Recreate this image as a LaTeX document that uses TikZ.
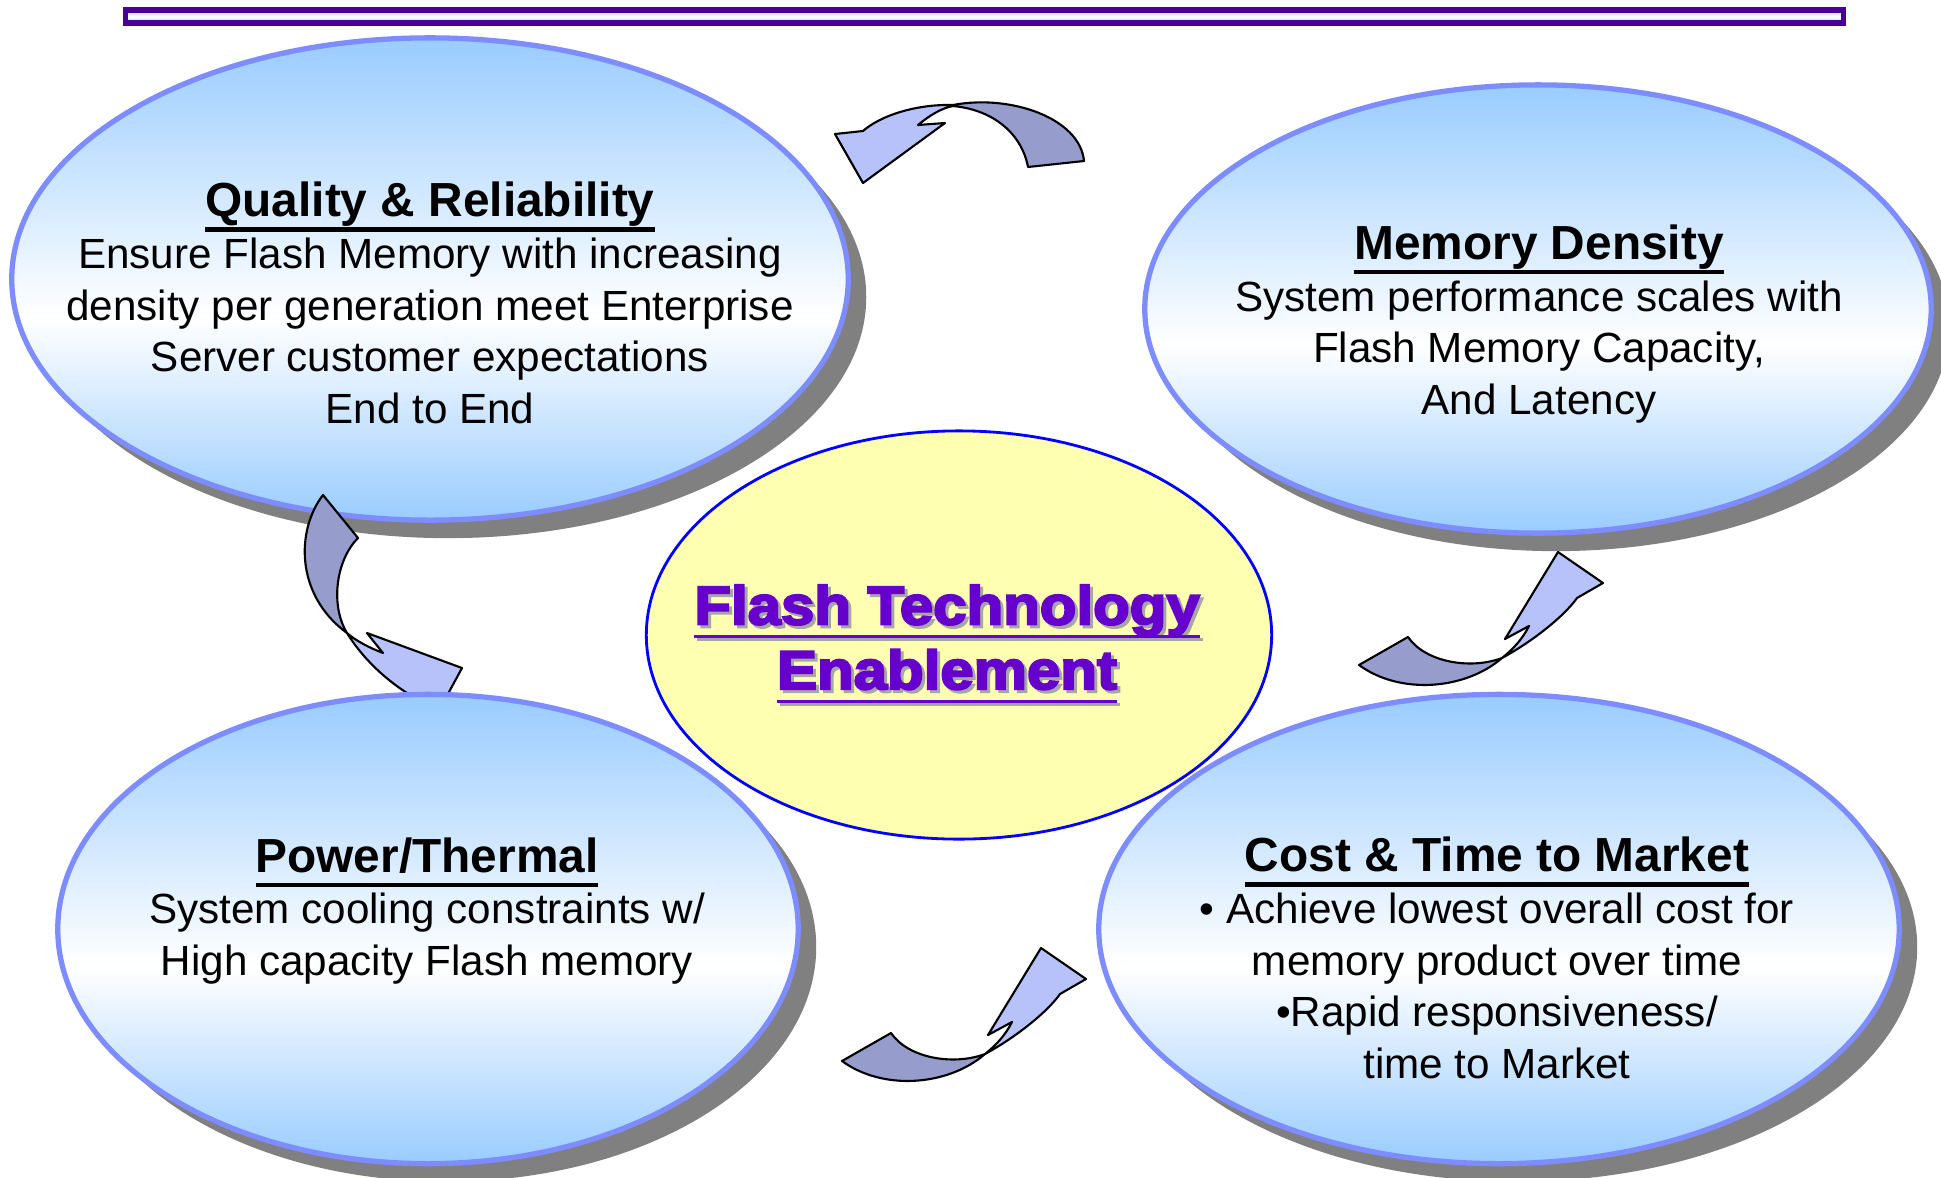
\documentclass[tikz,border=0pt]{standalone}
\usepackage{fontspec}
\setmainfont{Liberation Sans}
\newfontfamily\corefont[FakeBold=4,FakeStretch=1.1]{Liberation Sans Bold}
\usetikzlibrary{shapes.geometric,shadows}

\definecolor{sky}{RGB}{153,204,255}
\definecolor{rim}{RGB}{125,140,255}
\definecolor{pad}{RGB}{255,255,178}
\definecolor{grape}{RGB}{102,0,204}
\definecolor{barrim}{RGB}{72,0,150}
\definecolor{barfill}{RGB}{184,204,255}
\definecolor{ribbondark}{RGB}{150,156,204}
\definecolor{ribbonlight}{RGB}{184,194,250}

% blue at top and bottom, white a bit below the middle
\pgfdeclareverticalshading{bubble}{100bp}{color(0bp)=(sky); color(25bp)=(sky);
  color(46bp)=(white); color(75bp)=(sky); color(100bp)=(sky)}

% underline: #1 rule thickness, #2 drop of the rule below the baseline, #3 text
\newcommand\ulined[3]{\setbox0\hbox{#3}\leavevmode
  \rlap{\raisebox{-#2}{\rule{\wd0}{#1}}}\box0}
\newcommand\bubbletitle[1]{{\fontsize{13.6}{15}\selectfont\bfseries\ulined{1.2pt}{4.2pt}{#1}}}
\newcommand\coreline[1]{\ulined{0.9pt}{4pt}{#1}}

% curved ribbon arrow, lower left end of the back piece at #1
\newcommand\risearrow[1]{%
  \begin{scope}[shift={#1}]
    \draw[ribbonback] (0,0) .. controls (41,30) and (106,25) .. (143,-7)
      .. controls (111,5) and (66,-3) .. (49,-28) -- cycle;
    \draw[ribbonfront] (143,-7) .. controls (176,-25) and (206,-50) .. (218,-67)
      -- (244,-82) -- (199,-113) -- (146,-26) -- (170,-39)
      .. controls (163,-25) and (153,-15) .. (143,-7) -- cycle;
  \end{scope}}

\begin{document}
\begin{tikzpicture}[
        x=0.01cm, y=-0.01cm,
        bubble/.style      = {ellipse, draw=rim, line width=1.5pt, inner sep=0pt,
                              shade, shading=bubble,
                              drop shadow={shadow xshift=0.18cm, shadow yshift=-0.18cm,
                                           fill=gray, opacity=1}},
        coredisc/.style    = {ellipse, draw=blue, line width=0.8pt, fill=pad, inner sep=0pt},
        blurb/.style       = {align=center, font=\fontsize{12}{14.7}\selectfont},
        coretext/.style    = {align=center, font=\corefont\fontsize{15.5}{18.4}\selectfont},
        ribbonback/.style  = {draw=black, line width=0.6pt, fill=ribbondark, line join=round},
        ribbonfront/.style = {draw=black, line width=0.6pt, fill=ribbonlight, line join=round},
    ]
        \useasboundingbox (0,0) rectangle (1941,1178);

        % ---- top rule ----
        \draw[barrim, line width=0.055cm, top color=barfill, bottom color=barfill,
              middle color=white] (125.5,10) rectangle (1843.5,23);

        % ---- upper bubbles and centre disc ----
        \node (qual) [bubble, minimum width=8.36cm, minimum height=4.82cm] at (430,279) {};
        \node (dens) [bubble, minimum width=7.86cm, minimum height=4.48cm] at (1538,309) {};
        \node (core) [coredisc, minimum width=6.25cm, minimum height=4.08cm] at (959,635) {};

        % ---- ribbon arrows ----
        % top: from density back to quality
        \draw[ribbonback] (953,105) .. controls (1010,94) and (1080,118) .. (1084,161)
            -- (1028,167) .. controls (1022,135) and (995,110) .. (953,106) -- cycle;
        \draw[ribbonfront] (953,105) .. controls (915,104) and (880,116) .. (863,131)
            -- (835,134) -- (863,183) -- (945,123) -- (918,125)
            .. controls (930,115) and (942,108) .. (953,106) -- cycle;
        % left: quality down to power (head goes under the power bubble)
        \draw[ribbonback] (323,495) .. controls (296,530) and (295,595) .. (347,633)
            .. controls (330,605) and (336,560) .. (358,538) -- cycle;
        \draw[ribbonfront] (347,633) .. controls (365,662) and (392,686) .. (424,703)
            -- (436,716) -- (462,668) -- (367,633) -- (383,653)
            .. controls (370,648) and (356,641) .. (347,633) -- cycle;
        % right and bottom: rising arrows
        \risearrow{(1359,665)}
        \risearrow{(842,1061)}

        % ---- lower bubbles ----
        \node (power) [bubble, minimum width=7.40cm, minimum height=4.69cm] at (428,929) {};
        \node (cost)  [bubble, minimum width=8.00cm, minimum height=4.69cm] at (1499,929) {};

        % ---- texts ----
        \node (qualtxt) [blurb] at (430,303) {\bubbletitle{Quality \& Reliability}\\
            Ensure Flash Memory with increasing\\
            density per generation meet Enterprise\\
            Server customer expectations\\
            End to End};
        \node (denstxt) [blurb] at (1539,324) {\bubbletitle{Memory Density}\\
            System performance scales with\\
            Flash Memory Capacity,\\
            And Latency};
        \node (powertxt) [blurb] at (427,911) {\bubbletitle{Power/Thermal}\\
            System cooling constraints w/\\
            High capacity Flash memory};
        \node (costtxt) [blurb] at (1497,958) {\bubbletitle{Cost \& Time to Market}\\
            \textbullet{} Achieve lowest overall cost for\\
            memory product over time\\
            \textbullet Rapid responsiveness/\\
            time to Market};

        \node (coreshade) [coretext, text=gray!70] at (950,647)
            {\coreline{Flash Technology}\\\coreline{Enablement}};
        \node (coretxt) [coretext, text=grape] at (947,644)
            {\coreline{Flash Technology}\\\coreline{Enablement}};
    \end{tikzpicture}
\end{document}
